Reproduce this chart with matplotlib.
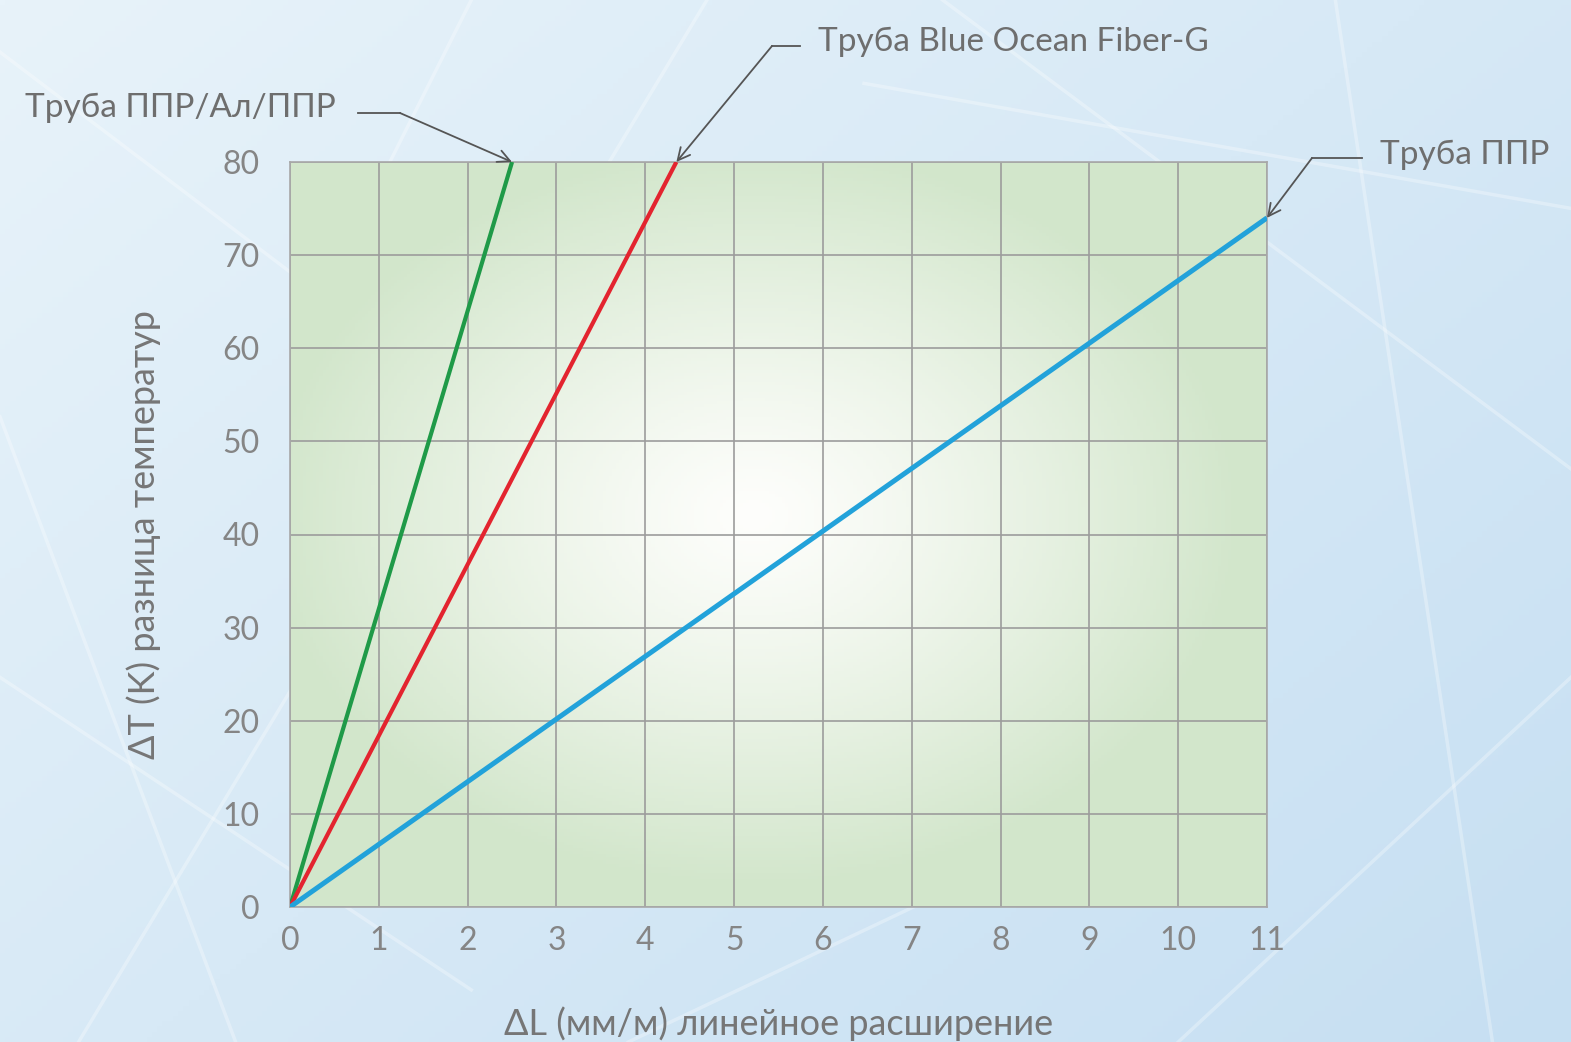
import numpy as np
import matplotlib
matplotlib.use("Agg")
import matplotlib.pyplot as plt

# data
x_ticks = list(range(0, 12))
y_ticks = list(range(0, 90, 10))

series_names = ["Труба ППР/Ал/ППР", "Труба Blue Ocean Fiber-G", "Труба ППР"]
ppr_al_x = [0, 2.5]
ppr_al_y = [0, 80]
fiber_x = [0, 4.35]
fiber_y = [0, 80]
ppr_x = [0, 11]
ppr_y = [0, 74]

colors = ["#1f9a48", "#e3242f", "#22a2da"]

plt.rcParams["font.family"] = ["Lato", "DejaVu Sans"]

W, H = 1571, 1042
fig = plt.figure(figsize=(W / 100, H / 100), dpi=100)

# background: light blue gradient with some white streaks
bg = fig.add_axes([0, 0, 1, 1])
gx, gy = np.meshgrid(np.linspace(0, 1, 300), np.linspace(0, 1, 200))
t = np.clip(0.55 * gx + 0.45 * gy, 0, 1)
c1 = np.array([232, 243, 250]) / 255
c2 = np.array([198, 223, 242]) / 255
img = c1 * (1 - t[..., None]) + c2 * t[..., None]
bg.imshow(img, extent=[0, 1, 0, 1], aspect="auto", origin="upper")
streaks = [((0.0, 0.95), (0.35, 0.55)), ((0.05, 0.0), (0.45, 1.0)),
           ((0.6, 1.0), (1.0, 0.55)), ((0.75, 0.0), (1.0, 0.35)),
           ((0.0, 0.35), (0.3, 0.05)), ((0.85, 1.0), (0.95, 0.0)),
           ((0.4, 0.0), (0.75, 0.25)), ((0.55, 0.92), (1.0, 0.8)),
           ((0.0, 0.6), (0.15, 0.0)), ((0.3, 1.0), (0.2, 0.7))]
for (a, b) in streaks:
    bg.plot([a[0], b[0]], [a[1], b[1]], color="white", lw=2.5, alpha=0.3)
bg.set_xlim(0, 1)
bg.set_ylim(0, 1)
bg.axis("off")

# chart area
ax = fig.add_axes([290 / W, 1 - 907 / H, 977 / W, 745 / H])
ax.set_xlim(0, 11)
ax.set_ylim(0, 80)

# green to white radial fill
rx, ry = np.meshgrid(np.linspace(-1, 1, 300), np.linspace(-1, 1, 240))
r = np.clip(np.sqrt((rx + 0.05) ** 2 + (ry + 0.05) ** 2), 0, 1)
r = r ** 1.2
green = np.array([210, 230, 203]) / 255
white = np.array([254, 254, 252]) / 255
fill = white * (1 - r[..., None]) + green * r[..., None]
ax.imshow(fill, extent=[0, 11, 0, 80], aspect="auto", zorder=0)

ax.set_xticks(x_ticks)
ax.set_yticks(y_ticks)
ax.grid(True, color="#9c9c9c", lw=1.2, zorder=1)
for s in ax.spines.values():
    s.set_color("#a8a8a8")
    s.set_linewidth(1.2)
ax.tick_params(length=0, labelsize=23, labelcolor="#858585")
ax.tick_params(axis="x", pad=14)
ax.tick_params(axis="y", pad=22)

ax.plot(ppr_al_x, ppr_al_y, color=colors[0], lw=3, zorder=3, solid_capstyle="butt")
ax.plot(fiber_x, fiber_y, color=colors[1], lw=3, zorder=3, solid_capstyle="butt")
ax.plot(ppr_x, ppr_y, color=colors[2], lw=3.6, zorder=3, solid_capstyle="butt")

ax.set_xlabel("ΔL (мм/м) линейное расширение", fontsize=26, color="#767676",
              labelpad=36)
ax.set_ylabel("ΔT (K) разница температур", fontsize=26, color="#767676",
              labelpad=44)

# callouts: text, short horizontal leader, arrow to the line end
ends = [(ppr_al_x[-1], ppr_al_y[-1]), (fiber_x[-1], fiber_y[-1]), (ppr_x[-1], ppr_y[-1])]
text_pos = [(25, 108), (818, 42), (1380, 155)]
elbow = [(358, 400), (800, 772), (1362, 1312)]
elbow_y = [113, 46, 158]
for name, end, (tx, ty), (e0, e1), ey in zip(series_names, ends, text_pos, elbow, elbow_y):
    fig.text(tx / W, 1 - ty / H, name, fontsize=24, color="#6e6e6e",
             ha="left", va="center")
    fig.add_artist(plt.Line2D([e0 / W, e1 / W], [1 - ey / H, 1 - ey / H],
                              color="#555555", lw=1.3, transform=fig.transFigure))
    ax.annotate("", xy=end, xycoords="data",
                xytext=(e1 / W, 1 - ey / H), textcoords="figure fraction",
                arrowprops=dict(arrowstyle="->", color="#555555", lw=1.3,
                                mutation_scale=22, shrinkA=0, shrinkB=0),
                annotation_clip=False, zorder=5)

fig.savefig("out.png", dpi=100)
